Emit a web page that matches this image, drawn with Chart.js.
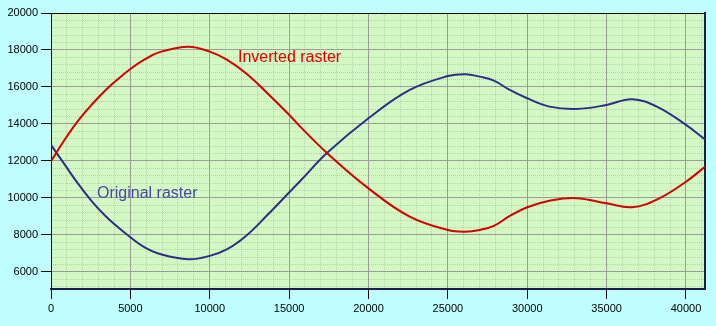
<!DOCTYPE html>
<html>
<head>
<meta charset="utf-8">
<script src="https://cdn.jsdelivr.net/npm/chart.js@4/dist/chart.umd.min.js"></script>
<style>
  html, body { margin: 0; padding: 0; background: #c0ffff; overflow: hidden; }
  canvas { display: block; }
</style>
</head>
<body>
<canvas id="rasterChart" width="716" height="326"></canvas>
<script>
// sample positions along the raster line
const positions = [0, 900, 1700, 2600, 3400, 4000, 5000, 5900, 6800, 8650, 10000, 11100, 12300, 13600,
  15000, 15700, 17400, 20000, 22600, 25000, 26100, 27000, 27900, 28900, 30000, 31400, 33100, 35000,
  36600, 38200, 40000, 41200];

const invertedRaster = [11990, 13200, 14170, 15080, 15800, 16270, 16970, 17490, 17870, 18180, 17910, 17470,
  16730, 15690, 14500, 13860, 12420, 10520, 8990, 8270, 8180, 8270, 8490, 9030, 9500, 9850, 9990, 9710,
  9500, 9930, 10880, 11690];

const originalRaster = [12870, 11760, 10780, 9790, 9050, 8580, 7880, 7330, 6990, 6690, 6870, 7230,
  7960, 9050, 10300, 10920, 12440, 14310, 15840, 16590, 16690, 16560, 16340, 15840, 15390, 14940, 14810, 15030,
  15340, 14930, 13950, 13170];

const xTickLabels = ['0', '5000', '10000', '15000', '20000', '25000', '30000', '35000', '40000'];
const yTickLabels = ['6000', '8000', '10000', '12000', '14000', '16000', '18000', '20000'];

const X_MIN = 0, X_MAX = 41200;
const Y_MIN = 5080, Y_MAX = 20000;
const X_MINOR = 1000, Y_MINOR = 400;

const toPoints = ys => positions.map((x, i) => ({ x: x, y: ys[i] }));

// text tags placed next to each curve, in data coordinates
const curveTags = [
  { text: 'Inverted raster', x: 11780, y: 17600, color: '#e00000' },
  { text: 'Original raster', x: 2900, y: 10250, color: '#4848a8' }
];

const plotBackground = {
  id: 'plotBackground',
  beforeDraw(chart) {
    const { ctx, chartArea: a } = chart;
    ctx.save();
    ctx.fillStyle = '#d4f8c4';
    ctx.fillRect(a.left, a.top, a.right - a.left, a.bottom - a.top);
    ctx.restore();
  }
};

const tagPlugin = {
  id: 'curveTags',
  afterDatasetsDraw(chart) {
    const { ctx, scales } = chart;
    ctx.save();
    ctx.font = '16px "Liberation Sans", Arial, sans-serif';
    ctx.textAlign = 'left';
    ctx.textBaseline = 'middle';
    curveTags.forEach(t => {
      ctx.fillStyle = t.color;
      ctx.fillText(t.text, scales.x.getPixelForValue(t.x), scales.y.getPixelForValue(t.y));
    });
    ctx.restore();
  }
};

const tickFont = { family: '"Liberation Sans", Arial, sans-serif', size: 11 };

// every multiple of step inside [lo, hi]
function stepsBetween(lo, hi, step) {
  const out = [];
  for (let v = Math.ceil(lo / step) * step; v <= hi; v += step) out.push({ value: v });
  return out;
}

// minor axis: dotted grid plus the small tick marks, no labels, takes no room
function minorAxis(axis) {
  const isX = axis === 'x';
  return {
    type: 'linear',
    axis: axis,
    position: isX ? 'bottom' : 'left',
    min: isX ? X_MIN : Y_MIN,
    max: isX ? X_MAX : Y_MAX,
    ticks: { display: false, autoSkip: false },
    grid: {
      color: 'rgba(120,120,120,0.28)',
      lineWidth: 1,
      drawTicks: true,
      tickLength: 10,
      tickColor: '#000000',
      tickWidth: 1
    },
    border: { display: false, dash: [1, 1] },
    afterBuildTicks: s => {
      s.ticks = isX ? stepsBetween(X_MIN, X_MAX, X_MINOR) : stepsBetween(Y_MIN, Y_MAX, Y_MINOR);
    },
    afterFit: s => { if (isX) s.height = 0; else s.width = 0; }
  };
}

// labelled axis: solid major grid, a label at every listed value
function majorAxis(axis, labels, size) {
  const isX = axis === 'x';
  return {
    type: 'linear',
    position: isX ? 'bottom' : 'left',
    min: isX ? X_MIN : Y_MIN,
    max: isX ? X_MAX : Y_MAX,
    ticks: {
      autoSkip: false,
      maxRotation: 0,
      color: '#000000',
      font: tickFont,
      padding: 3,
      callback: v => String(v)
    },
    grid: { color: '#a2a2a2', lineWidth: 1, tickLength: 10, tickColor: '#000000', tickWidth: 1 },
    border: isX ? { color: '#1c1c50', width: 2 } : { color: '#000000', width: 1 },
    afterBuildTicks: s => { s.ticks = labels.map(l => ({ value: Number(l) })); },
    afterFit: s => { if (isX) s.height = size; else s.width = size; }
  };
}

new Chart(document.getElementById('rasterChart'), {
  type: 'line',
  data: {
    datasets: [{
      label: 'Inverted raster',
      data: toPoints(invertedRaster),
      xAxisID: 'x',
      yAxisID: 'y',
      borderColor: '#d40000',
      borderWidth: 2,
      tension: 0.4,
      pointRadius: 0,
      fill: false
    }, {
      label: 'Original raster',
      data: toPoints(originalRaster),
      xAxisID: 'x',
      yAxisID: 'y',
      borderColor: '#2e2e88',
      borderWidth: 2,
      tension: 0.4,
      pointRadius: 0,
      fill: false
    }]
  },
  options: {
    responsive: false,
    animation: false,
    layout: { padding: { top: 13, right: 11, left: 0, bottom: 0 } },
    plugins: {
      legend: { display: false },
      tooltip: { enabled: false }
    },
    scales: {
      x: majorAxis('x', xTickLabels, 37),
      y: majorAxis('y', yTickLabels, 51),
      xMinor: minorAxis('x'),
      yMinor: minorAxis('y'),
      // frame lines along the top and right of the plot
      xTop: {
        type: 'linear', position: 'top', min: X_MIN, max: X_MAX,
        ticks: { display: false }, grid: { display: false },
        border: { display: true, color: '#000000', width: 1 },
        afterFit: s => { s.height = 0; }
      },
      yRight: {
        type: 'linear', position: 'right', min: Y_MIN, max: Y_MAX,
        ticks: { display: false }, grid: { display: false },
        border: { display: true, color: '#1c1c50', width: 2 },
        afterFit: s => { s.width = 0; }
      }
    }
  },
  plugins: [plotBackground, tagPlugin]
});
</script>
</body>
</html>
